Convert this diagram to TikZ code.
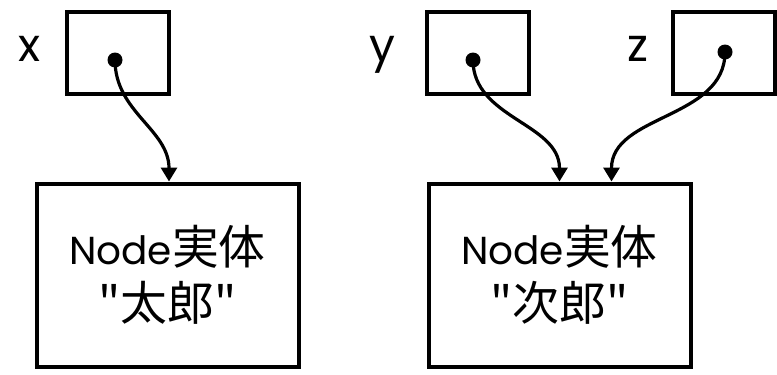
\documentclass[tikz,border=0pt]{standalone}
\usepackage{fontspec}
\setmainfont{Poppins}
\newfontfamily\cjk{Noto Sans CJK JP}[Scale=1.2]
\usetikzlibrary{arrows.meta,positioning,shadows}
\newcommand{\dq}{{\cjk\char34}}

\begin{document}
\begin{tikzpicture}[
    x=1pt,y=1pt,
    node distance=22pt,
    ptr/.style={rectangle,draw,line width=4pt,fill=white,minimum width=102pt,minimum height=82pt,
      drop shadow={shadow xshift=2pt,shadow yshift=-2.5pt,opacity=.25}},
    ent/.style={rectangle,draw,line width=4pt,fill=white,align=center,minimum width=262pt,minimum height=183pt,
      font=\fontsize{39}{56}\selectfont,
      drop shadow={shadow xshift=2pt,shadow yshift=-2.5pt,opacity=.25}},
    lbl/.style={font=\fontsize{46}{50}\selectfont,inner sep=0pt,text height=24pt,text depth=7pt},
    dot/.style={circle,fill,inner sep=0pt,minimum size=15pt},
    ref/.style={line width=3.2pt,-{Triangle[length=14pt,width=16pt]}},
    >=Latex]
    \useasboundingbox (0,0) rectangle (777,-375);

    \node[ptr] (xbox) at (117.5,-52.5) {};
    \node[ptr] (ybox) at (477.5,-52.5) {};
    \node[ptr] (zbox) at (723.5,-52.5) {};
    \node[lbl,left=24pt of xbox] (xlbl) {x};
    \node[lbl,left=29pt of ybox] (ylbl) {y};
    \node[lbl,left=22pt of zbox] (zlbl) {z};

    \node[ent,below=86pt of xbox,xshift=50pt] (taro) {Node{\cjk 実体}\\\dq{\cjk 太郎}\dq};
    \node[ent,below=86pt of ybox,xshift=82pt] (jiro) {Node{\cjk 実体}\\\dq{\cjk 次郎}\dq};

    \node[dot] (xd) at ([xshift=-2.5pt,yshift=-7.5pt]xbox.center) {};
    \node[dot] (yd) at ([xshift=-4.5pt,yshift=-7.5pt]ybox.center) {};
    \node[dot] (zd) at ([xshift=1.5pt,yshift=0.5pt]zbox.center) {};

    \draw[ref] (xd.center) to[out=-90,in=90] ([xshift=1.5pt]taro.north);
    \draw[ref] (yd.center) to[out=-90,in=90] (jiro.north);
    \draw[ref] (zd.center) to[out=-90,in=90] ([xshift=52pt]jiro.north);
  \end{tikzpicture}
\end{document}
